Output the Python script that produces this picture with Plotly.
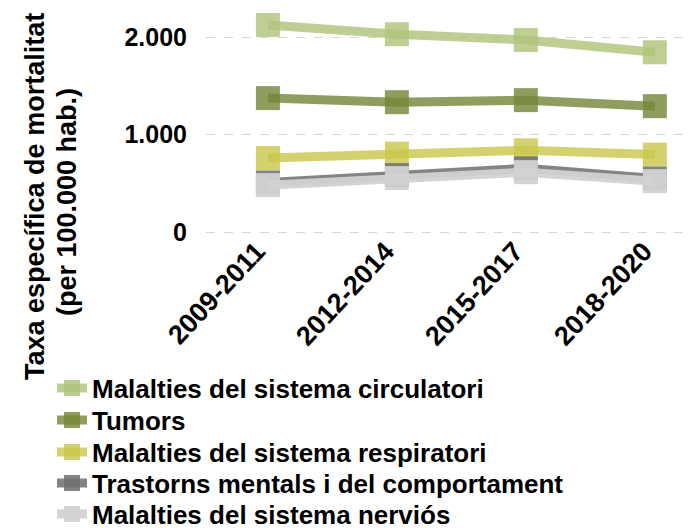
import plotly.graph_objects as go

PERIODES = ["2009-2011", "2012-2014", "2015-2017", "2018-2020"]

CIRCULATORI = [2125, 2030, 1970, 1845]
TUMORS = [1375, 1333, 1354, 1292]
RESPIRATORI = [760, 805, 840, 795]
TRASTORNS = [510, 585, 655, 550]
NERVIOS = [482, 554, 615, 523]

SERIES = [
    ("Malalties del sistema circulatori", CIRCULATORI, "rgba(175,195,121,0.8)"),
    ("Tumors", TUMORS, "rgba(115,134,55,0.8)"),
    ("Malalties del sistema respiratori", RESPIRATORI, "rgba(201,199,74,0.8)"),
    ("Trastorns mentals i del comportament", TRASTORNS, "rgba(110,110,110,0.85)"),
    ("Malalties del sistema nerviós", NERVIOS, "rgba(210,210,210,0.95)"),
]

FONT = "Liberation Sans, Arial, sans-serif"
# la pàgina afegeix 8px de marge al body, així que la figura és una mica més petita
W, H = 692, 520
ML, MB = 198, 291
PW, PH = W - ML, H - MB
# centre vertical (px) de cada fila de la llegenda
FILES_LLEGENDA = [380, 412, 444, 475, 506]


def px_x(px):
    return (px - ML) / PW


def px_y(py):
    return 1 - py / PH


fig = go.Figure()
legends = {}
for i, (nom, vals, color) in enumerate(SERIES):
    lname = "legend" if i == 0 else f"legend{i + 1}"
    fig.add_trace(go.Scatter(
        x=PERIODES, y=vals, name=nom, mode="lines+markers",
        line=dict(color=color, width=9),
        marker=dict(symbol="square", size=24, color=color),
        legend=lname,
    ))
    legends[lname] = dict(
        x=px_x(44), xanchor="left",
        y=px_y(FILES_LLEGENDA[i]), yanchor="middle",
        bgcolor="rgba(0,0,0,0)",
        font=dict(family=FONT, size=26, color="black", weight="bold"),
    )

fig.update_layout(
    width=W, height=H,
    margin=dict(l=ML, r=0, t=0, b=MB, autoexpand=False),
    paper_bgcolor="white", plot_bgcolor="white",
    font=dict(family=FONT, size=26, color="black"),
    showlegend=True,
    xaxis=dict(
        type="category", range=[-0.48, 3.35], showgrid=False, zeroline=False,
        showline=False, tickangle=-47, automargin=False,
        ticklabelstandoff=-8, ticklabelshift=-11,
        tickfont=dict(family=FONT, size=27, weight="bold"),
    ),
    yaxis=dict(
        range=[-50, 2299], tickvals=[0, 1000, 2000],
        ticktext=["0", "1.000", "2.000"], showgrid=True,
        gridcolor="#d6d6d6", griddash="dash", gridwidth=1, zeroline=False,
        showline=False, ticklabelstandoff=18, automargin=False,
        tickfont=dict(family=FONT, size=25, weight="bold"),
    ),
    annotations=[
        dict(text="Taxa específica de mortalitat",
             xref="paper", yref="paper", x=px_x(27), y=px_y(189),
             xanchor="center", yanchor="middle", textangle=-90, showarrow=False,
             font=dict(family=FONT, size=27, color="black", weight="bold")),
        dict(text="(per 100.000 hab.)",
             xref="paper", yref="paper", x=px_x(59), y=px_y(194),
             xanchor="center", yanchor="middle", textangle=-90, showarrow=False,
             font=dict(family=FONT, size=27, color="black", weight="bold")),
    ],
    **legends,
)

fig.write_html("out.html")
